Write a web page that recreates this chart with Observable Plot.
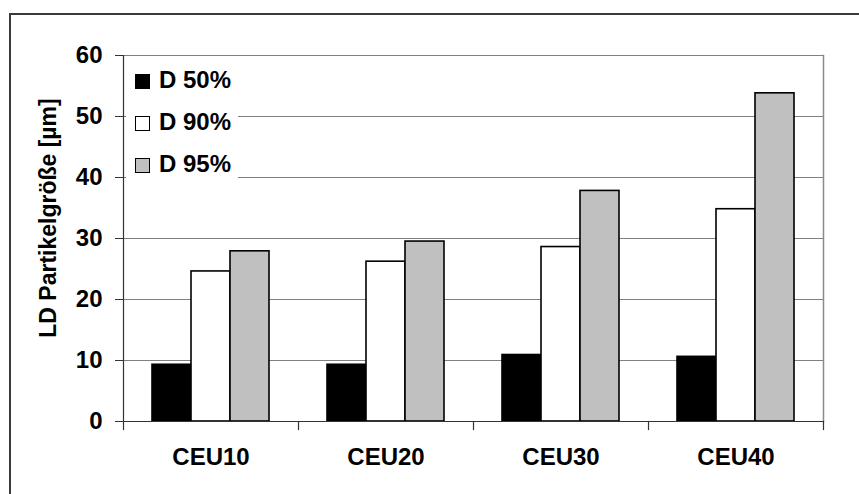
<!DOCTYPE html>
<html>
<head>
<meta charset="utf-8">
<script src="https://cdn.jsdelivr.net/npm/d3@7"></script>
<script src="https://cdn.jsdelivr.net/npm/@observablehq/plot@0.6"></script>
<style>
  body { margin: 0; background: #fff; }
  #chart {
    position: relative; width: 859px; height: 494px; overflow: hidden;
    font-family: "Liberation Sans", Arial, sans-serif; font-weight: bold; color: #000;
  }
  #chart .outer {
    position: absolute; left: 9px; top: 13px; width: 1000px; height: 700px;
    border: 2px solid #3a3a3a; box-sizing: border-box; pointer-events: none;
  }
  #chart .ylabel {
    position: absolute; left: 48px; top: 218px; white-space: nowrap; font-size: 23px;
    transform: translate(-50%, -50%) rotate(-90deg);
  }
  #chart .legend {
    position: absolute; left: 126px; top: 59px; width: 112px; height: 126px;
    background: #fff; font-size: 24px;
  }
  #chart .legend .row { position: absolute; left: 0; height: 28px; line-height: 28px; white-space: nowrap; }
  #chart .legend .sw {
    position: absolute; left: 9px; top: 8px; width: 13px; height: 13px;
    border: 1px solid #000; box-sizing: content-box;
  }
  #chart .legend .txt { position: absolute; left: 33px; top: 0; }
</style>
</head>
<body>
<div id="chart"></div>
<script>
// Laser-diffraction particle size percentiles per sample
const categories = ["CEU10", "CEU20", "CEU30", "CEU40"];
const seriesNames = ["D 50%", "D 90%", "D 95%"];
const d50 = [9.3, 9.3, 10.9, 10.6];
const d90 = [24.6, 26.2, 28.6, 34.8];
const d95 = [27.9, 29.5, 37.8, 53.8];
const yTicks = [0, 10, 20, 30, 40, 50, 60];
const yLabel = "LD Partikelgröße [µm]";
const fills = ["#000000", "#ffffff", "#c0c0c0"];

const seriesValues = [d50, d90, d95];
const rows = categories.flatMap((cat, i) =>
  seriesNames.map((s, j) => ({cat, series: s, value: seriesValues[j][i]}))
);

const W = 859, H = 494;
const margin = {top: 55, right: 36, bottom: 73, left: 123};
const innerH = H - margin.top - margin.bottom;

const chart = Plot.plot({
  width: W,
  height: H,
  marginTop: margin.top,
  marginRight: margin.right,
  marginBottom: margin.bottom,
  marginLeft: margin.left,
  style: {fontFamily: "'Liberation Sans', Arial, sans-serif", fontSize: "24px", fontWeight: "bold", color: "#000", background: "transparent"},
  fx: {domain: categories, padding: 0, label: null},
  x: {domain: seriesNames, paddingInner: 0, paddingOuter: 0.725, axis: null},
  y: {domain: [0, 60], axis: null},
  color: {domain: seriesNames, range: fills},
  marks: [
    Plot.gridY(yTicks, {stroke: "#808080", strokeOpacity: 1, strokeWidth: 1}),
    Plot.barY(rows, {fx: "cat", x: "series", y: "value", fill: "series", stroke: "#000", strokeWidth: 1.6}),
    // plot-area border on the right
    Plot.frame({anchor: "right", facetAnchor: "right", stroke: "#8a8a8a", strokeWidth: 1.5}),
    // value axis line
    Plot.frame({anchor: "left", facetAnchor: "left", stroke: "#333", strokeWidth: 1.2}),
    // category axis line
    Plot.ruleY([0], {stroke: "#333", strokeWidth: 1.2}),
    // category separator ticks below the axis
    Plot.frame({anchor: "left", insetTop: innerH, insetBottom: -8, stroke: "#333", strokeWidth: 1.2}),
    Plot.frame({anchor: "right", facetAnchor: "right", insetTop: innerH, insetBottom: -8, stroke: "#333", strokeWidth: 1.2}),
    Plot.axisY(yTicks, {anchor: "left", tickSize: 8, tickPadding: 13, stroke: "#333", label: null, fill: "#000"}),
    Plot.axisFx({anchor: "bottom", tickSize: 0, tickPadding: 26, label: null, fill: "#000"})
  ]
});

const root = document.getElementById("chart");
root.appendChild(chart);

const outer = document.createElement("div");
outer.className = "outer";
root.appendChild(outer);

const yl = document.createElement("div");
yl.className = "ylabel";
yl.textContent = yLabel;
root.appendChild(yl);

const legend = document.createElement("div");
legend.className = "legend";
seriesNames.forEach((name, j) => {
  const row = document.createElement("div");
  row.className = "row";
  row.style.top = (7 + j * 42) + "px";
  const sw = document.createElement("span");
  sw.className = "sw";
  sw.style.background = fills[j];
  const t = document.createElement("span");
  t.className = "txt";
  t.textContent = name;
  row.appendChild(sw);
  row.appendChild(t);
  legend.appendChild(row);
});
root.appendChild(legend);
</script>
</body>
</html>
